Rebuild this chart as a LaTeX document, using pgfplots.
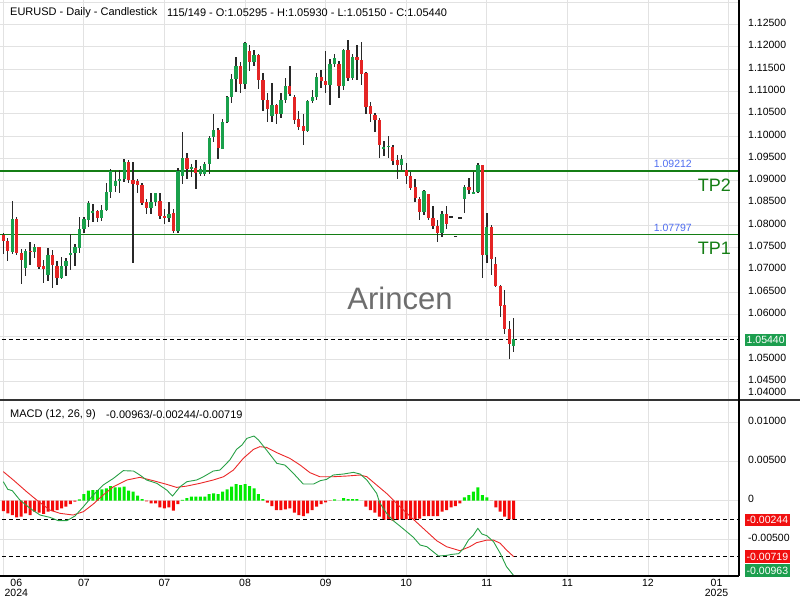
\documentclass[border=0pt]{standalone}
\usepackage{pgfplots}
\usepackage{pgfplotstable}
\pgfplotsset{compat=1.18}
\usepackage{fontspec}
\setmainfont{Liberation Sans}

\definecolor{cgreen}{RGB}{25,160,75}
\definecolor{cred}{RGB}{228,36,36}
\definecolor{wick}{RGB}{40,40,40}
\definecolor{gridc}{RGB}{226,226,226}
\definecolor{tpgreen}{RGB}{20,125,20}
\definecolor{lblue}{RGB}{80,110,240}
\definecolor{wm}{RGB}{110,110,110}
\definecolor{hgreen}{RGB}{0,235,0}
\definecolor{hred}{RGB}{245,10,10}
\definecolor{mgreen}{RGB}{40,160,70}
\definecolor{mred}{RGB}{235,40,40}
\definecolor{boxgreen}{RGB}{28,158,78}
\definecolor{boxred}{RGB}{240,16,16}

\pgfplotstableread{
i o h l c
0 1.0778 1.0783 1.0735 1.0765
1 1.0765 1.0772 1.0720 1.0742
2 1.0741 1.0854 1.0735 1.0814
3 1.0814 1.0819 1.0733 1.0738
4 1.0737 1.0747 1.0668 1.0722
5 1.0705 1.0747 1.0685 1.0742
6 1.0742 1.0762 1.0711 1.0740
7 1.0740 1.0758 1.0726 1.0750
8 1.0750 1.0750 1.0701 1.0706
9 1.0707 1.0722 1.0671 1.0702
10 1.0688 1.0748 1.0675 1.0733
11 1.0733 1.0745 1.0660 1.0711
12 1.0709 1.0720 1.0666 1.0682
13 1.0682 1.0729 1.0679 1.0709
14 1.0709 1.0727 1.0686 1.0720
15 1.0735 1.0780 1.0700 1.0737
16 1.0738 1.0757 1.0709 1.0750
17 1.0750 1.0819 1.0737 1.0791
18 1.0791 1.0819 1.0783 1.0813
19 1.0812 1.0855 1.0797 1.0850
20 1.0828 1.0848 1.0807 1.0832
21 1.0832 1.0834 1.0807 1.0817
22 1.0817 1.0845 1.0810 1.0834
23 1.0834 1.0894 1.0832 1.0874
24 1.0875 1.0926 1.0862 1.0920
25 1.0889 1.0922 1.0874 1.0899
26 1.0899 1.0924 1.0872 1.0903
27 1.0903 1.0948 1.0896 1.0941
28 1.0941 1.0946 1.0894 1.0901
29 1.0901 1.0941 1.0716 1.0894
30 1.0899 1.0903 1.0872 1.0890
31 1.0890 1.0895 1.0845 1.0850
32 1.0851 1.0858 1.0825 1.0839
33 1.0839 1.0872 1.0826 1.0851
34 1.0852 1.0873 1.0844 1.0872
35 1.0854 1.0873 1.0814 1.0821
36 1.0820 1.0836 1.0803 1.0817
37 1.0817 1.0851 1.0807 1.0825
38 1.0826 1.0836 1.0782 1.0787
39 1.0787 1.0929 1.0782 1.0920
40 1.0911 1.1008 1.0892 1.0950
41 1.0950 1.0963 1.0903 1.0926
42 1.0928 1.0937 1.0907 1.0930
43 1.0928 1.0946 1.0881 1.0918
44 1.0915 1.0933 1.0911 1.0925
45 1.0915 1.0941 1.0911 1.0937
46 1.0937 1.1001 1.0915 1.0996
47 1.0998 1.1049 1.0987 1.1013
48 1.1013 1.1018 1.0948 1.0974
49 1.0972 1.1038 1.0970 1.1032
50 1.1032 1.1090 1.1030 1.1088
51 1.1088 1.1138 1.1073 1.1128
52 1.1128 1.1177 1.1099 1.1157
53 1.1157 1.1165 1.1096 1.1117
54 1.1117 1.1210 1.1105 1.1208
55 1.1191 1.1204 1.1146 1.1166
56 1.1166 1.1193 1.1158 1.1180
57 1.1180 1.1184 1.1105 1.1126
58 1.1126 1.1142 1.1057 1.1081
59 1.1081 1.1097 1.1032 1.1061
60 1.1045 1.1120 1.1032 1.1070
61 1.1070 1.1072 1.1027 1.1050
62 1.1050 1.1097 1.1040 1.1081
63 1.1081 1.1131 1.1075 1.1112
64 1.1112 1.1157 1.1090 1.1095
65 1.1087 1.1093 1.1027 1.1037
66 1.1037 1.1057 1.1014 1.1020
67 1.1022 1.1049 1.0980 1.1011
68 1.1012 1.1081 1.1008 1.1079
69 1.1079 1.1103 1.1073 1.1088
70 1.1088 1.1141 1.1081 1.1131
71 1.1131 1.1148 1.1107 1.1123
72 1.1123 1.1191 1.1096 1.1116
73 1.1114 1.1172 1.1069 1.1162
74 1.1162 1.1184 1.1155 1.1175
75 1.1160 1.1168 1.1085 1.1113
76 1.1113 1.1195 1.1103 1.1193
77 1.1193 1.1215 1.1123 1.1131
78 1.1131 1.1185 1.1126 1.1176
79 1.1176 1.1204 1.1126 1.1170
80 1.1170 1.1210 1.1114 1.1140
81 1.1140 1.1144 1.1049 1.1066
82 1.1066 1.1077 1.1032 1.1049
83 1.1047 1.1051 1.1010 1.1036
84 1.1036 1.1040 1.0951 1.0980
85 1.0971 1.0989 1.0956 1.0976
86 1.0976 1.1000 1.0951 1.0978
87 1.0976 1.0980 1.0935 1.0945
88 1.0945 1.0957 1.0903 1.0935
89 1.0935 1.0957 1.0924 1.0948
90 1.0924 1.0940 1.0892 1.0911
91 1.0910 1.0919 1.0879 1.0884
92 1.0884 1.0903 1.0853 1.0862
93 1.0859 1.0864 1.0812 1.0830
94 1.0830 1.0879 1.0823 1.0877
95 1.0870 1.0870 1.0812 1.0817
96 1.0815 1.0842 1.0791 1.0799
97 1.0798 1.0812 1.0763 1.0783
98 1.0783 1.0832 1.0773 1.0825
99 1.0825 1.0842 1.0791 1.0803
103 1.0860 1.0890 1.0828 1.0886
104 1.0886 1.0906 1.0869 1.0879
105 1.0872 1.0919 1.0872 1.0874
106 1.0875 1.0939 1.0873 1.0935
107 1.0935 1.0935 1.0682 1.0733
108 1.0733 1.0828 1.0715 1.0795
109 1.0795 1.0800 1.0688 1.0724
110 1.0713 1.0729 1.0662 1.0664
111 1.0664 1.0666 1.0595 1.0620
112 1.0620 1.0655 1.0556 1.0567
113 1.0567 1.0585 1.0499 1.0533
114 1.05295 1.0593 1.0515 1.0544
}\candles

\pgfplotstableread{
i p
100 1.0818
101 1.0775
102 1.0816
}\flats

\pgfplotstableread{
i v
0 -0.00133
1 -0.00163
2 -0.00184
3 -0.00214
4 -0.00206
5 -0.00163
6 -0.00184
7 -0.00141
8 -0.00154
9 -0.00171
10 -0.00141
11 -0.00133
12 -0.00120
13 -0.00099
14 -0.00077
15 -0.00043
16 -0.00013
17 0.00017
18 0.00086
19 0.00129
20 0.00137
21 0.00137
22 0.00146
23 0.00159
24 0.00188
25 0.00171
26 0.00171
27 0.00180
28 0.00129
29 0.00116
30 0.00064
31 0.00021
32 -0.00009
33 -0.00034
34 -0.00034
35 -0.00086
36 -0.00099
37 -0.00086
38 -0.00129
39 -0.00043
40 0.00009
41 0.00034
42 0.00051
43 0.00051
44 0.00051
45 0.00051
46 0.00086
47 0.00094
48 0.00086
49 0.00116
50 0.00146
51 0.00180
52 0.00214
53 0.00201
54 0.00214
55 0.00188
56 0.00159
57 0.00086
58 0.00021
59 -0.00026
60 -0.00069
61 -0.00120
62 -0.00120
63 -0.00111
64 -0.00099
65 -0.00154
66 -0.00184
67 -0.00197
68 -0.00163
69 -0.00120
70 -0.00077
71 -0.00043
72 -0.00021
73 -0.00002
74 0.00017
75 0.00002
76 0.00034
77 0.00021
78 0.00021
79 0.00021
80 0.00002
81 -0.00077
82 -0.00120
83 -0.00154
84 -0.00206
85 -0.00248
86 -0.00240
87 -0.00257
88 -0.00248
89 -0.00240
90 -0.00240
91 -0.00240
92 -0.00240
93 -0.00231
94 -0.00197
95 -0.00197
96 -0.00197
97 -0.00197
98 -0.00141
99 -0.00120
100 -0.00086
101 -0.00069
102 -0.00034
103 0.00043
104 0.00073
105 0.00116
106 0.00171
107 0.00073
108 0.00043
109 0.00000
110 -0.00086
111 -0.00141
112 -0.00206
113 -0.00240
114 -0.00244
}\hist

\pgfplotstableread{
i v
0 0.00244
1 0.00146
2 0.00129
3.7 0.00009
6 -0.00099
8.2 -0.00184
10.4 -0.00214
12.3 -0.00257
14.2 -0.00257
16 -0.00197
17.9 -0.00077
20.1 0.00073
22.3 0.00201
24.6 0.00287
26.8 0.00386
29.1 0.00381
30.5 0.00330
32 0.00266
34.3 0.00223
36.5 0.00137
37.8 0.00060
39.5 0.00180
41 0.00244
43.2 0.00266
44.7 0.00308
46.9 0.00381
48.4 0.00394
50.6 0.00523
52.1 0.00660
53.3 0.00715
54.4 0.00801
56 0.00831
57 0.00780
58.8 0.00651
61.1 0.00480
62.9 0.00458
64.8 0.00351
67 0.00214
69.3 0.00214
70.8 0.00257
72.2 0.00274
73.7 0.00330
76 0.00343
78.2 0.00364
79.7 0.00343
81.2 0.00266
83.4 0.00094
84.1 -0.00030
85.6 -0.00160
87.1 -0.00257
88.6 -0.00326
90.1 -0.00398
91.6 -0.00471
93.1 -0.00570
94.6 -0.00591
96.0 -0.00655
97.2 -0.00711
99.0 -0.00703
100.2 -0.00690
101.7 -0.00681
102.8 -0.00613
103.9 -0.00506
105.0 -0.00441
106.0 -0.00356
106.9 -0.00428
108.0 -0.00450
109.5 -0.00527
111.0 -0.00677
112.4 -0.00848
114 -0.00963
}\macdline

\pgfplotstableread{
i v
0 0.00373
2.24 0.00266
5.2 0.00116
7.45 0.00009
10.4 -0.00120
12.7 -0.00163
15.6 -0.00184
17.9 -0.00141
20.1 -0.00043
22.3 0.00073
24.6 0.00180
27.6 0.00266
30.5 0.00300
33.5 0.00257
36.5 0.00210
38.7 0.00171
41 0.00188
43.9 0.00223
46.9 0.00266
49.2 0.00308
51.4 0.00394
53.6 0.00544
55.9 0.00660
57.3 0.00694
58.8 0.00685
61.1 0.00617
64.0 0.00544
66.3 0.00458
68.5 0.00360
70.7 0.00308
73.7 0.00308
76.7 0.00317
79.7 0.00330
81.2 0.00308
83.4 0.00201
85.6 0.00094
87.1 0.00009
88.6 -0.00077
91.6 -0.00240
94.6 -0.00398
96.8 -0.00514
99.0 -0.00591
102.0 -0.00643
104.2 -0.00591
105.7 -0.00540
108.0 -0.00506
109.5 -0.00506
111.0 -0.00548
112.4 -0.00634
114 -0.00719
}\signalline

\newcommand{\tickfont}{\fontsize{10.5}{10.4}\selectfont}

\begin{document}
\begin{tikzpicture}[font=\tickfont]
\useasboundingbox (0,0) rectangle (800pt,-600pt);

% ---------- price panel ----------
\begin{axis}[
  at={(0pt,-400pt)}, anchor=south west, scale only axis,
  width=739pt, height=400pt,
  xmin=-0.737, xmax=164.33, ymin=1.04080, ymax=1.13049,
  axis line style={draw=none}, major tick length=0pt,
  grid=major, major grid style={draw=gridc, line width=0.9pt},
  xtick={0,18,36,54,72,90,108,126,144,162}, xticklabels={},
  ytick={1.045,1.05,1.055,1.06,1.065,1.07,1.075,1.08,1.085,1.09,1.095,1.1,1.105,1.11,1.115,1.12,1.125,1.13},
  yticklabels={1.04500,1.05000,{},1.06000,1.06500,1.07000,1.07500,1.08000,1.08500,1.09000,1.09500,1.10000,1.10500,1.11000,1.11500,1.12000,1.12500,{}},
  yticklabel pos=right,
  yticklabel style={anchor=west, inner sep=0pt, xshift=9pt, yshift=1.5pt, font=\tickfont},
  /pgf/number format/assume math mode=true,
]
\addplot[tpgreen, line width=1.3pt, forget plot] coordinates {(-5,1.09212) (170,1.09212)};
\addplot[tpgreen, line width=1.3pt, forget plot] coordinates {(-5,1.07797) (170,1.07797)};
\addplot[black, line width=1pt, dash pattern=on 4pt off 3pt, forget plot] coordinates {(-5,1.0544) (170,1.0544)};
% wicks
\addplot[draw=none, mark=none, forget plot,
  error bars/.cd, y dir=both, y explicit, error mark=none,
  error bar style={draw=wick, line width=1.4pt}]
  table[x=i, y expr={(\thisrow{h}+\thisrow{l})/2}, y error expr={(\thisrow{h}-\thisrow{l})/2}] {\candles};
% green bodies
\addplot[draw=none, mark=none, forget plot,
  restrict expr to domain={\thisrow{c}-\thisrow{o}}{0:1},
  error bars/.cd, y dir=both, y explicit, error mark=none,
  error bar style={draw=cgreen, line width=3.3pt}]
  table[x=i, y expr={(\thisrow{o}+\thisrow{c})/2}, y error expr={abs(\thisrow{c}-\thisrow{o})/2+0.00005}] {\candles};
% red bodies
\addplot[draw=none, mark=none, forget plot,
  restrict expr to domain={\thisrow{o}-\thisrow{c}}{0.00001:1},
  error bars/.cd, y dir=both, y explicit, error mark=none,
  error bar style={draw=cred, line width=3.3pt}]
  table[x=i, y expr={(\thisrow{o}+\thisrow{c})/2}, y error expr={abs(\thisrow{c}-\thisrow{o})/2+0.00005}] {\candles};
% flat bars
\addplot[only marks, mark=-, mark size=1.8pt, mark options={line width=1.4pt, draw=wick}, forget plot]
  table[x=i, y=p] {\flats};
\end{axis}

% ---------- MACD panel ----------
\begin{axis}[
  at={(0pt,-576pt)}, anchor=south west, scale only axis,
  width=739pt, height=176pt,
  xmin=-0.737, xmax=164.33, ymin=-0.00968, ymax=0.01294,
  axis line style={draw=none}, major tick length=0pt,
  grid=major, major grid style={draw=gridc, line width=0.9pt},
  xtick={0,18,36,54,72,90,108,126,144,162},
  xticklabels={{\hspace*{26pt}06\\\hspace*{26pt}2024},07,07,08,09,10,11,11,12,{01\hspace*{24pt}\\2025\hspace*{24pt}}},
  xticklabel style={align=center, inner sep=0pt, yshift=-3pt, font=\tickfont},
  ytick={-0.005,0,0.005,0.01},
  yticklabels={-0.00500,0,0.00500,0.01000},
  scaled y ticks=false,
  yticklabel pos=right,
  yticklabel style={anchor=west, inner sep=0pt, xshift=9pt, yshift=1.5pt, font=\tickfont},
  /pgf/number format/assume math mode=true,
]
\addplot[ybar, bar width=3pt, bar shift=0pt, fill=hgreen, draw=none, forget plot,
  restrict y to domain=0:1] table[x=i, y=v] {\hist};
\addplot[ybar, bar width=3pt, bar shift=0pt, fill=hred, draw=none, forget plot,
  restrict y to domain=-1:0] table[x=i, y=v] {\hist};
\addplot[black, line width=1pt, dash pattern=on 4pt off 3pt, forget plot] coordinates {(-5,-0.00244) (170,-0.00244)};
\addplot[black, line width=1pt, dash pattern=on 4pt off 3pt, forget plot] coordinates {(-5,-0.00719) (170,-0.00719)};
\addplot[mred, line width=0.9pt, mark=none, forget plot] table[x=i, y=v] {\signalline};
\addplot[mgreen, line width=0.9pt, mark=none, forget plot] table[x=i, y=v] {\macdline};
\end{axis}

% frame lines
\draw[line width=1.2pt, black!80] (0pt,-400pt) -- (800pt,-400pt);
\draw[line width=1.2pt, black] (739pt,0pt) -- (739pt,-576pt);
\draw[line width=1.2pt, black] (0pt,-576pt) -- (739pt,-576pt);

% header texts
\node[anchor=west, inner sep=0pt, font=\fontsize{11}{13}\selectfont] at (10pt,-13pt) {EURUSD - Daily - Candlestick};
\node[anchor=west, inner sep=0pt, font=\fontsize{11}{13}\selectfont] at (167pt,-13pt) {115/149 - O:1.05295 - H:1.05930 - L:1.05150 - C:1.05440};
\node[anchor=west, inner sep=0pt, font=\fontsize{11}{13}\selectfont] at (10pt,-415pt) {MACD (12, 26, 9)};
\node[anchor=west, inner sep=0pt, font=\fontsize{11}{13}\selectfont] at (106pt,-415pt) {-0.00963/-0.00244/-0.00719};

% watermark and level labels
\node[text=wm, font=\fontsize{31}{34}\selectfont, inner sep=0pt] at (400pt,-298pt) {Arincen};
\node[anchor=east, text=tpgreen, font=\fontsize{18}{20}\selectfont, inner sep=0pt] at (731pt,-185.5pt) {TP2};
\node[anchor=east, text=tpgreen, font=\fontsize{18}{20}\selectfont, inner sep=0pt] at (731pt,-248.5pt) {TP1};
\node[anchor=east, text=lblue, font=\tickfont, inner sep=0pt] at (692pt,-164pt) {1.09212};
\node[anchor=east, text=lblue, font=\tickfont, inner sep=0pt] at (692pt,-227.5pt) {1.07797};

% bottom price label pushed up to stay inside the panel
\node[anchor=west, inner sep=0pt] at (748pt,-392pt) {1.04000};

% value boxes
\node[anchor=west, fill=boxgreen, text=white, inner xsep=1.5pt, inner ysep=2.5pt] at (745pt,-340pt) {1.05440};
\node[anchor=west, fill=boxred, text=white, inner xsep=1.5pt, inner ysep=2.5pt] at (745pt,-520pt) {-0.00244};
\node[anchor=west, fill=boxred, text=white, inner xsep=1.5pt, inner ysep=2.5pt] at (745pt,-556.7pt) {-0.00719};
\node[anchor=west, fill=boxgreen, text=white, inner xsep=1.5pt, inner ysep=2.5pt] at (745pt,-570.5pt) {-0.00963};
\end{tikzpicture}
\end{document}
